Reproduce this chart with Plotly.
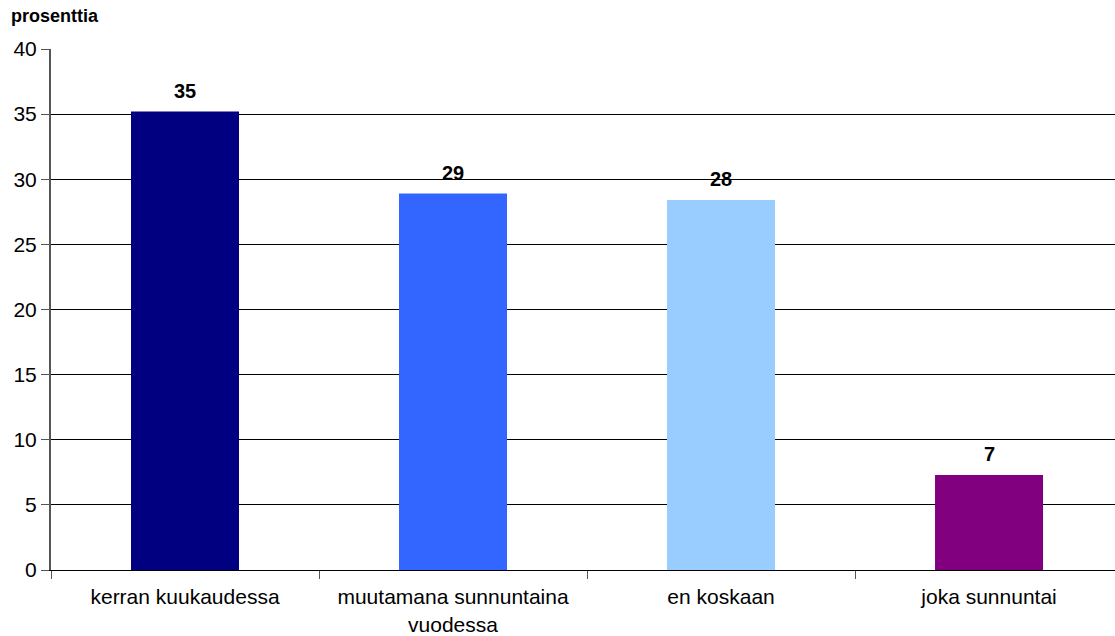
import plotly.graph_objects as go

# Data
categories = ["kerran kuukaudessa", "muutamana sunnuntaina<br>vuodessa", "en koskaan", "joka sunnuntai"]
values = [35.2, 28.9, 28.4, 7.3]
labels = ["35", "29", "28", "7"]
colors = ["#000080", "#3366FF", "#99CCFF", "#800080"]
y_ticks = [0, 5, 10, 15, 20, 25, 30, 35, 40]

FONT = "Liberation Sans, Arial, sans-serif"

fig = go.Figure()
fig.add_trace(go.Bar(
    x=categories,
    y=values,
    marker=dict(color=colors, line=dict(width=0)),
    width=0.403,
    hoverinfo="x+y",
))

# value labels above bars
for cat, val, lab in zip(categories, values, labels):
    fig.add_annotation(
        x=cat, y=val, text="<b>" + lab + "</b>",
        showarrow=False, yanchor="middle", yshift=21,
        font=dict(family=FONT, size=20, color="#000000"),
    )

fig.add_annotation(
    xref="paper", yref="paper", x=-0.0395, y=1.0,
    xanchor="left", yanchor="middle", yshift=33,
    text="<b>prosenttia</b>", showarrow=False,
    font=dict(family=FONT, size=18, color="#000000"),
)

fig.update_layout(
    width=1115, height=636,
    margin=dict(l=51, r=0, t=49, b=66, autoexpand=False),
    paper_bgcolor="white", plot_bgcolor="white",
    showlegend=False,
    font=dict(family=FONT, color="#000000"),
    xaxis=dict(
        type="category",
        range=[-0.5, 3.47],
        tickson="boundaries",
        ticks="outside", ticklen=8, tickcolor="#555555",
        showline=True, linecolor="#000000", linewidth=1,
        showgrid=False,
        tickfont=dict(size=21),
        ticklabelstandoff=8,
        automargin=False,
    ),
    yaxis=dict(
        range=[0, 40],
        tickvals=y_ticks,
        ticks="outside", ticklen=8, tickcolor="#555555",
        showline=True, linecolor="#555555", linewidth=2,
        showgrid=True, gridcolor="#000000", gridwidth=1,
        zeroline=False,
        tickfont=dict(size=21),
        automargin=False,
    ),
)

fig.write_html(
    "out.html",
    config={"displayModeBar": False},
    post_script="document.body.style.margin='0';",
)
